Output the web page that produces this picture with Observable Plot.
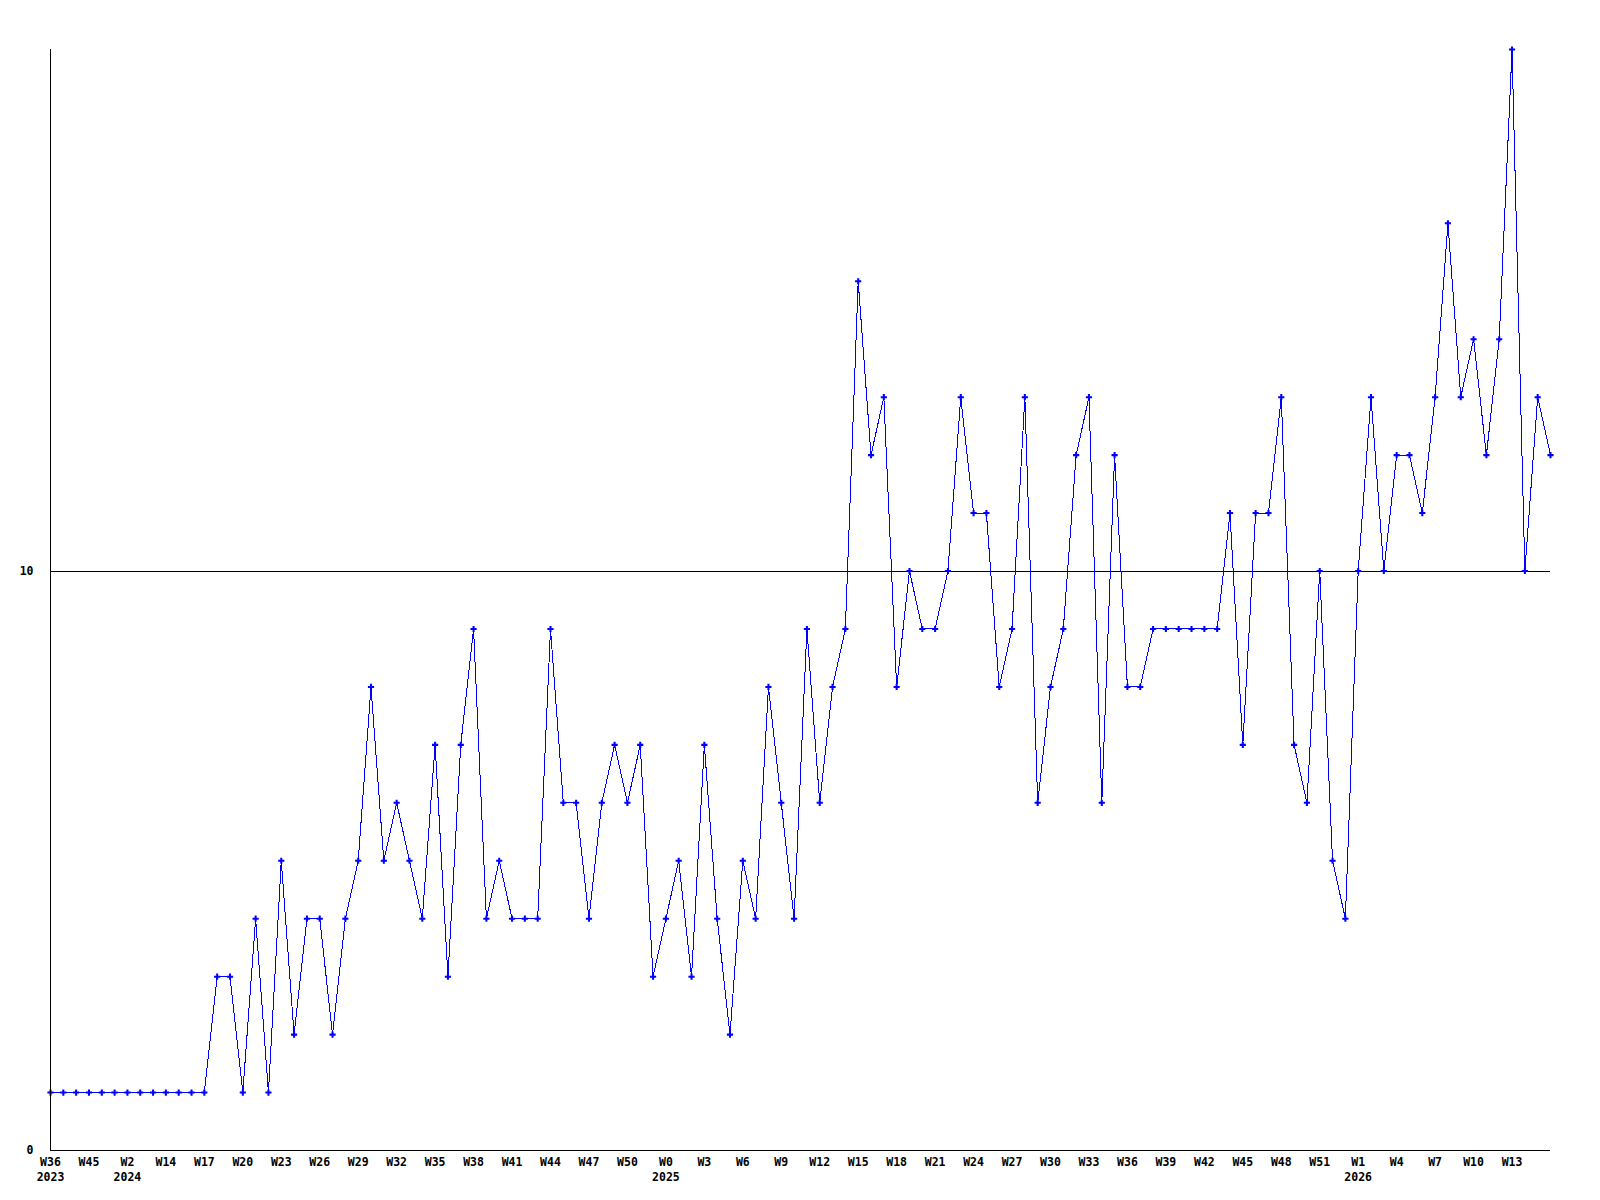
<!DOCTYPE html>
<html>
<head>
<meta charset="utf-8">
<script src="https://cdn.jsdelivr.net/npm/d3@7"></script>
<script src="https://cdn.jsdelivr.net/npm/@observablehq/plot@0.6"></script>
<style>
  html, body { margin: 0; padding: 0; background: #ffffff; }
  #chart svg { display: block; }
</style>
</head>
<body>
<div id="chart"></div>
<script>
// Weekly values, one per point (118 points)
const values = [
  1,1,1,1,1,1,1,1,1,1,
  1,1,1,3,3,1,4,1,5,2,
  4,4,2,4,5,8,5,6,5,4,
  7,3,7,9,4,5,4,4,4,9,
  6,6,4,6,7,6,7,3,4,5,
  3,7,4,2,5,4,8,6,4,9,
  6,8,9,15,12,13,8,10,9,9,
  10,13,11,11,8,9,13,6,8,9,
  12,13,6,12,8,8,9,9,9,9,
  9,9,11,7,11,11,13,7,6,10,
  5,4,10,13,10,12,12,11,13,16,
  13,14,12,14,19,10,13,12
];

// X tick labels, one for every third point
const weekTicks = [
  "W36","W45","W2","W14","W17","W20","W23","W26","W29","W32",
  "W35","W38","W41","W44","W47","W50","W0","W3","W6","W9",
  "W12","W15","W18","W21","W24","W27","W30","W33","W36","W39",
  "W42","W45","W48","W51","W1","W4","W7","W10","W13"
];
const yearTicks = [
  "2023","","2024","","","","","","","",
  "","","","","","","2025","","","",
  "","","","","","","","","","",
  "","","","","2026","","","",""
];
const tickStep = 3;

// Y ticks
const yTicks = [0, 10];
const yMax = 19;
const refLine = [10];

const points = values.map((v, i) => ({i, v}));
const xTickPos = weekTicks.map((_, k) => k * tickStep);

const chart = Plot.plot({
  width: 1600,
  height: 1200,
  marginLeft: 50,
  marginRight: 50,
  marginTop: 49,
  marginBottom: 50,
  style: {
    fontFamily: "'DejaVu Sans Mono', monospace",
    fontSize: "11.5px",
    fontWeight: "bold",
    background: "#ffffff",
    color: "#000000"
  },
  x: { type: "linear", domain: [0, values.length - 1] },
  y: { domain: [0, yMax] },
  marks: [
    Plot.axisX({
      ticks: xTickPos,
      tickSize: 0,
      tickPadding: 5,
      lineHeight: 1.3,
      tickFormat: (d) => {
        const k = Math.round(d / tickStep);
        return yearTicks[k] ? weekTicks[k] + "\n" + yearTicks[k] : weekTicks[k];
      },
      label: null,
      fill: "#000000"
    }),
    Plot.axisY({
      ticks: yTicks,
      tickSize: 0,
      tickPadding: 17,
      tickFormat: (d) => String(d),
      label: null,
      fill: "#000000"
    }),
    Plot.ruleY(refLine, {stroke: "#000000", strokeWidth: 1, shapeRendering: "crispEdges"}),
    Plot.line(points, {x: "i", y: "v", stroke: "#0000ff", strokeWidth: 1, shapeRendering: "crispEdges"}),
    Plot.dot(points, {x: "i", y: "v", symbol: "cross", r: 2.6, fill: "#0000ff", stroke: "none"}),
    Plot.ruleY([0], {stroke: "#000000", strokeWidth: 1, shapeRendering: "crispEdges"}),
    Plot.ruleX([0], {stroke: "#000000", strokeWidth: 1, shapeRendering: "crispEdges"})
  ]
});

document.getElementById("chart").appendChild(chart);
</script>
</body>
</html>
